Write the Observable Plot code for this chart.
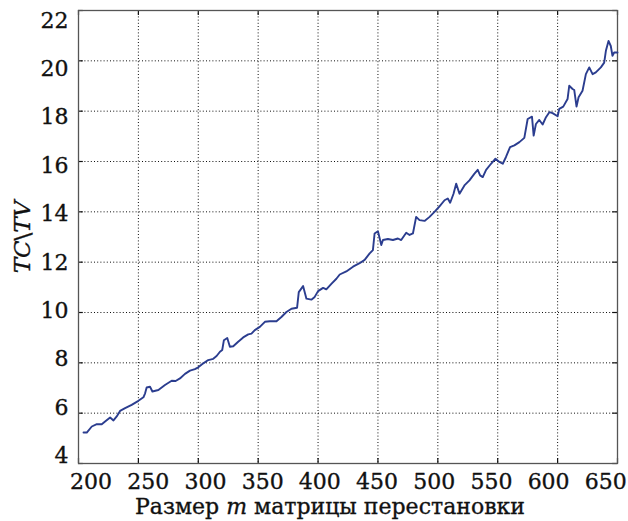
<!DOCTYPE html>
<html><head><meta charset="utf-8">
<script src="https://cdn.jsdelivr.net/npm/d3@7"></script>
<script src="https://cdn.jsdelivr.net/npm/@observablehq/plot@0.6"></script>
<style>body{margin:0;background:#fff} svg{display:block}</style>
</head><body><div id="chart"></div>
<script>
const sizeM = [204.2,206.9,211.1,215.3,219.4,222.2,226.4,229.2,231.9,234.7,238.9,244.4,250,254.2,255.6,256.9,259.7,261.7,266.7,272.2,277.8,281.1,284.7,288.9,293.1,297.2,300,304.2,308.3,312.5,315.3,318.1,320,321.4,324.2,326.4,329.2,333.3,337.5,341.7,344.4,347.2,351.4,355.6,359.7,365.3,369.4,373.6,377.8,382.5,383.9,387.5,390.3,394.4,397.2,400,404.2,406.9,411.1,415.3,418.1,423.6,429.2,434.7,438.9,443.1,445.8,447.2,450,452.8,454.2,458.3,462.5,466.7,469.4,473.6,476.4,479.2,481.9,484.7,488.9,493.1,497.2,501.4,505.6,508.3,510.3,513.1,515.3,518.1,522.2,526.4,530.6,533.3,535.3,537.5,540.3,544.4,548.1,551.4,554.2,556.9,560.3,563.9,568.1,572.2,575,578.6,580,581.9,584.7,587.5,590.3,593.1,595.8,600,601.4,604.7,608.3,609.7,612.5,613.9,615.8,617.5,620.8,623.6,626.4,629.2,631.9,636.1,638.9,640.3,642.5,644.4,645.8,647.2,650];
const ratio = [5.23,5.23,5.47,5.56,5.56,5.67,5.83,5.71,5.87,6.09,6.20,6.33,6.49,6.63,6.79,7.02,7.05,6.86,6.92,7.12,7.29,7.28,7.38,7.56,7.69,7.75,7.82,7.98,8.11,8.16,8.27,8.44,8.51,8.90,8.99,8.64,8.66,8.84,9.01,9.13,9.16,9.30,9.43,9.63,9.65,9.65,9.82,10.02,10.15,10.19,10.81,11.05,10.55,10.51,10.62,10.85,10.98,10.92,11.14,11.34,11.51,11.63,11.82,11.96,12.09,12.35,12.48,13.14,13.23,12.68,12.88,12.92,12.88,12.94,12.88,13.17,13.08,13.14,13.80,13.67,13.64,13.80,14.00,14.22,14.46,14.53,14.36,14.72,15.12,14.72,15.05,15.25,15.52,15.67,15.45,15.38,15.67,15.91,16.11,15.98,15.91,16.18,16.57,16.64,16.77,16.94,17.69,17.78,17.03,17.49,17.65,17.47,17.76,17.96,17.92,17.80,18.09,18.18,18.48,19.01,18.88,18.84,18.18,18.55,18.81,19.47,19.74,19.47,19.54,19.74,19.93,20.40,20.79,20.59,20.20,20.33,20.33];
const xTicks = [200,250,300,350,400,450,500,550,600,650];
const yTicks = [4,6,8,10,12,14,16,18,20,22];
const xTitle = "Размер m матрицы перестановки";
const yTitle = "TC\\TV";

const data = sizeM.map((m, i) => ({m, r: ratio[i]}));
const font = "DejaVu Serif";
const grid = {stroke: "#000", strokeDasharray: "1,2.2", strokeWidth: 1, strokeOpacity: 0.95};
const tick = {stroke: "#111", strokeWidth: 1.2};
const txt = {fontFamily: font, fontSize: 22, fill: "#111", stroke: "#111", strokeWidth: 0.35};

const chart = Plot.plot({
  width: 628, height: 521,
  marginLeft: 78, marginRight: 11, marginTop: 10, marginBottom: 58,
  style: {background: "#fff", color: "#111"},
  x: {domain: [200, 650], axis: null},
  y: {domain: [4, 22], axis: null},
  marks: [
    Plot.ruleX(xTicks.slice(1, -1), grid),
    Plot.ruleY(yTicks.slice(1, -1), grid),
    Plot.ruleX(xTicks, {...tick, y1: 4, y2: 4.2}),
    Plot.ruleX(xTicks, {...tick, y1: 21.8, y2: 22}),
    Plot.ruleY(yTicks, {...tick, x1: 200, x2: 204}),
    Plot.ruleY(yTicks, {...tick, x1: 646, x2: 650}),
    Plot.frame({stroke: "#555", strokeWidth: 1.3}),
    Plot.line(data, {x: "m", y: "r", stroke: "#2b3d8f", strokeWidth: 1.9}),
    Plot.text(xTicks, {...txt, x: d => 210.5 + (d - 200) * 0.955, text: d => String(d), frameAnchor: "bottom", lineAnchor: "top", dy: 10}),
    Plot.text(yTicks, {...txt, y: d => 4.30 + (d - 4) * 0.961, text: d => String(d), frameAnchor: "left", textAnchor: "end", dx: -10}),
    Plot.text([xTitle], {...txt, text: d => d, frameAnchor: "bottom", lineAnchor: "top", dy: 35, dx: -18}),
    Plot.text([yTitle], {...txt, fontSize: 23, text: d => d, frameAnchor: "left", dx: -56, rotate: -90, textAnchor: "middle", lineAnchor: "middle"})
  ]
});
document.getElementById("chart").appendChild(chart);

const ns = "http://www.w3.org/2000/svg";
function span(s, italic) {
  const e = document.createElementNS(ns, "tspan");
  e.textContent = s;
  if (italic) e.setAttribute("font-style", "italic");
  return e;
}
for (const t of chart.querySelectorAll("text")) {
  if (t.textContent === xTitle) {
    const parts = xTitle.split(" m ");
    t.textContent = "";
    t.append(span(parts[0] + " "), span("m", true), span(" " + parts[1]));
  } else if (t.textContent === yTitle) {
    const parts = yTitle.split("\\");
    t.textContent = "";
    t.append(span(parts[0], true), span("\\"), span(parts[1], true));
  }
}
</script>
</body></html>
